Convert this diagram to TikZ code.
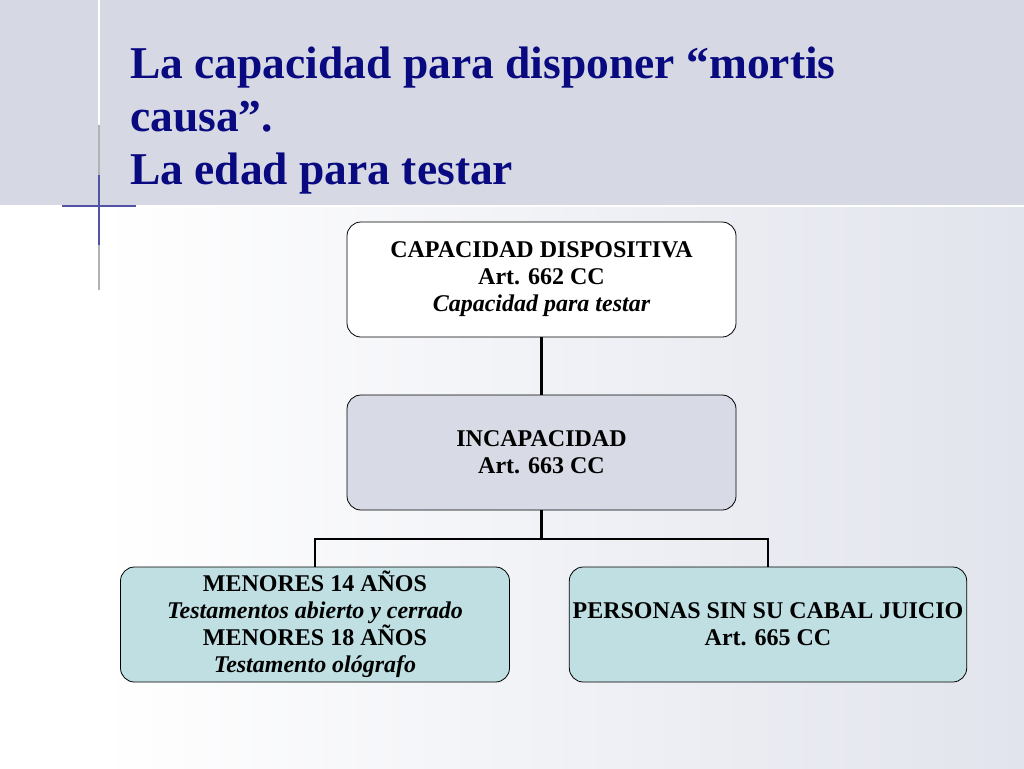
\documentclass[tikz,border=0pt]{standalone}
\usepackage{fontspec}
\setmainfont{Liberation Serif}
\definecolor{band}{RGB}{214,217,228}
\definecolor{low}{RGB}{226,228,237}
\definecolor{midbox}{RGB}{216,219,229}
\definecolor{lowbox}{RGB}{192,223,227}
\definecolor{navy}{RGB}{10,10,128}
\begin{document}
\begin{tikzpicture}[x=1pt,y=-1pt,
 box/.style={draw=black,thick,rounded corners=14pt,minimum width=389pt,minimum height=115pt,align=center,font=\bfseries\fontsize{24}{27}\selectfont},
 conn/.style={line width=2.5pt}]
\useasboundingbox (0,0) rectangle (1024,768);
\fill[white] (0,205) rectangle (99,768);
\shade[left color=white,right color=low] (99,205) rectangle (1024,768);
\fill[band] (0,0) rectangle (1024,205);
\draw[white,line width=2pt] (99,0) -- (99,125) (0,206) -- (1024,206);
\draw[gray!60,line width=1.5pt] (99,125) -- (99,290);
\draw[navy!70,line width=2pt] (62,206) -- (136,206);
\draw[navy!70,line width=1.5pt] (99,175) -- (99,245);
\node[anchor=north west,align=left,text=navy,inner sep=0pt,font=\bfseries\fontsize{45.5}{53}\selectfont] (title) at (130,47) {La capacidad para disponer “mortis\\causa”.\\La edad para testar};
\node[box,fill=white] (a) at (541.5,279.5) {CAPACIDAD DISPOSITIVA\\Art. 662 CC\\\textit{Capacidad para testar}};
\node[box,fill=midbox] (b) at (541.5,452.5) {INCAPACIDAD\\Art. 663 CC};
\node[box,fill=lowbox] (c) at (315,624.5) {MENORES 14 AÑOS\\\textit{Testamentos abierto y cerrado}\\MENORES 18 AÑOS\\\textit{Testamento ológrafo}};
\node[box,fill=lowbox] (d) at (768,624.5) {PERSONAS SIN SU CABAL JUICIO\\Art. 665 CC};
\coordinate (j) at (541.5,539);
\draw[conn] (a.south) -- (b.north);
\draw[conn] (b.south) -- (j);
\draw[conn] (c.north) -- (c.north |- j) -- (d.north |- j) -- (d.north);
\end{tikzpicture}
\end{document}
